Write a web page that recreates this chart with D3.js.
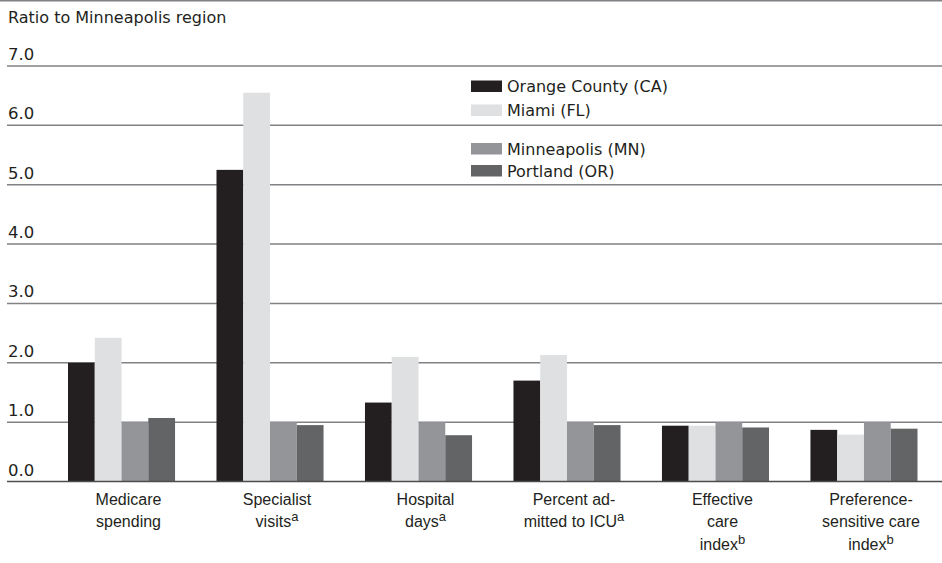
<!DOCTYPE html>
<html>
<head>
<meta charset="utf-8">
<script src="https://cdn.jsdelivr.net/npm/d3@7"></script>
<style>
  body { margin: 0; background: #fff; }
  svg { display: block; }
</style>
</head>
<body>
<svg id="chart"></svg>
<script>
const categories = ["medicare", "specialist", "hospital", "icu", "effective", "preference"];
const labelLines = [
  ["Medicare", "spending"],
  ["Specialist", "visits"],
  ["Hospital", "days"],
  ["Percent ad-", "mitted to ICU"],
  ["Effective", "care", "index"],
  ["Preference-", "sensitive care", "index"]
];
const labelNotes = ["", "a", "a", "a", "b", "b"];
const seriesNames = ["Orange County (CA)", "Miami (FL)", "Minneapolis (MN)", "Portland (OR)"];
const orangeCounty = [2.0, 5.25, 1.33, 1.70, 0.94, 0.87];
const miami = [2.42, 6.55, 2.10, 2.13, 0.94, 0.79];
const minneapolis = [1.0, 1.0, 1.0, 1.0, 1.0, 1.0];
const portland = [1.07, 0.95, 0.78, 0.95, 0.91, 0.89];
const yTicks = [0, 1, 2, 3, 4, 5, 6, 7];

const seriesValues = [orangeCounty, miami, minneapolis, portland];
const colors = ["#231f20", "#dfe0e2", "#939598", "#636466"];

const width = 942, height = 563;
const svg = d3.select("#chart").attr("width", width).attr("height", height);

const y = d3.scaleLinear().domain([0, 7]).range([481.5, 66]);
const x0 = d3.scaleBand().domain(categories).range([68, 917.5]).paddingInner(0.279).paddingOuter(0);
const x1 = d3.scaleBand().domain(d3.range(seriesNames.length)).range([0, x0.bandwidth()]);

// top rule
svg.append("line")
  .attr("x1", 0).attr("x2", width)
  .attr("y1", 0.75).attr("y2", 0.75)
  .attr("stroke", "#808285").attr("stroke-width", 1.5);

svg.append("text")
  .attr("x", 8).attr("y", 23)
  .attr("font-family", "DejaVu Sans").attr("font-size", 16)
  .attr("fill", "#231f20")
  .text("Ratio to Minneapolis region");

// gridlines + tick labels
const grid = svg.append("g");
grid.selectAll("line").data(yTicks.filter(d => d > 0)).enter().append("line")
  .attr("x1", 7).attr("x2", width)
  .attr("y1", d => y(d)).attr("y2", d => y(d))
  .attr("stroke", "#808285").attr("stroke-width", 1.5);

grid.selectAll("text").data(yTicks).enter().append("text")
  .attr("x", 8).attr("y", d => y(d) - 6)
  .attr("font-family", "DejaVu Sans").attr("font-size", 16.5)
  .attr("fill", "#231f20")
  .text(d => d3.format(".1f")(d));

// bars
const groups = svg.append("g").selectAll("g").data(categories).enter().append("g")
  .attr("transform", d => "translate(" + x0(d) + ",0)");

groups.selectAll("rect")
  .data((d, i) => seriesValues.map((s, j) => ({ j: j, v: s[i] })))
  .enter().append("rect")
  .attr("x", d => x1(d.j))
  .attr("width", x1.bandwidth())
  .attr("y", d => y(d.v))
  .attr("height", d => y(0) - y(d.v))
  .attr("fill", d => colors[d.j]);

// baseline
svg.append("line")
  .attr("x1", 7).attr("x2", width)
  .attr("y1", y(0)).attr("y2", y(0))
  .attr("stroke", "#4d4d4f").attr("stroke-width", 1.5);

// x labels
categories.forEach((c, i) => {
  const cx = x0(c) + x0.bandwidth() / 2 + 7;
  const t = svg.append("text")
    .attr("x", cx)
    .attr("text-anchor", "middle")
    .attr("font-family", "Liberation Sans, Arial, sans-serif")
    .attr("font-size", 16)
    .attr("fill", "#231f20");
  labelLines[i].forEach((line, k) => {
    t.append("tspan").attr("x", cx).attr("y", 505 + k * 22.3).text(line);
    if (k === labelLines[i].length - 1 && labelNotes[i]) {
      t.append("tspan")
        .attr("font-size", 13)
        .attr("dy", -6)
        .text(labelNotes[i]);
    }
  });
});

// legend
const legendY = [80.5, 104.5, 143, 165];
const legend = svg.append("g");
seriesNames.forEach((name, i) => {
  legend.append("rect")
    .attr("x", 471).attr("y", legendY[i])
    .attr("width", 31).attr("height", 11.5)
    .attr("fill", colors[i]);
  legend.append("text")
    .attr("x", 507).attr("y", legendY[i] + 11.5)
    .attr("font-family", "DejaVu Sans").attr("font-size", 16)
    .attr("fill", "#231f20")
    .text(name);
});
</script>
</body>
</html>
